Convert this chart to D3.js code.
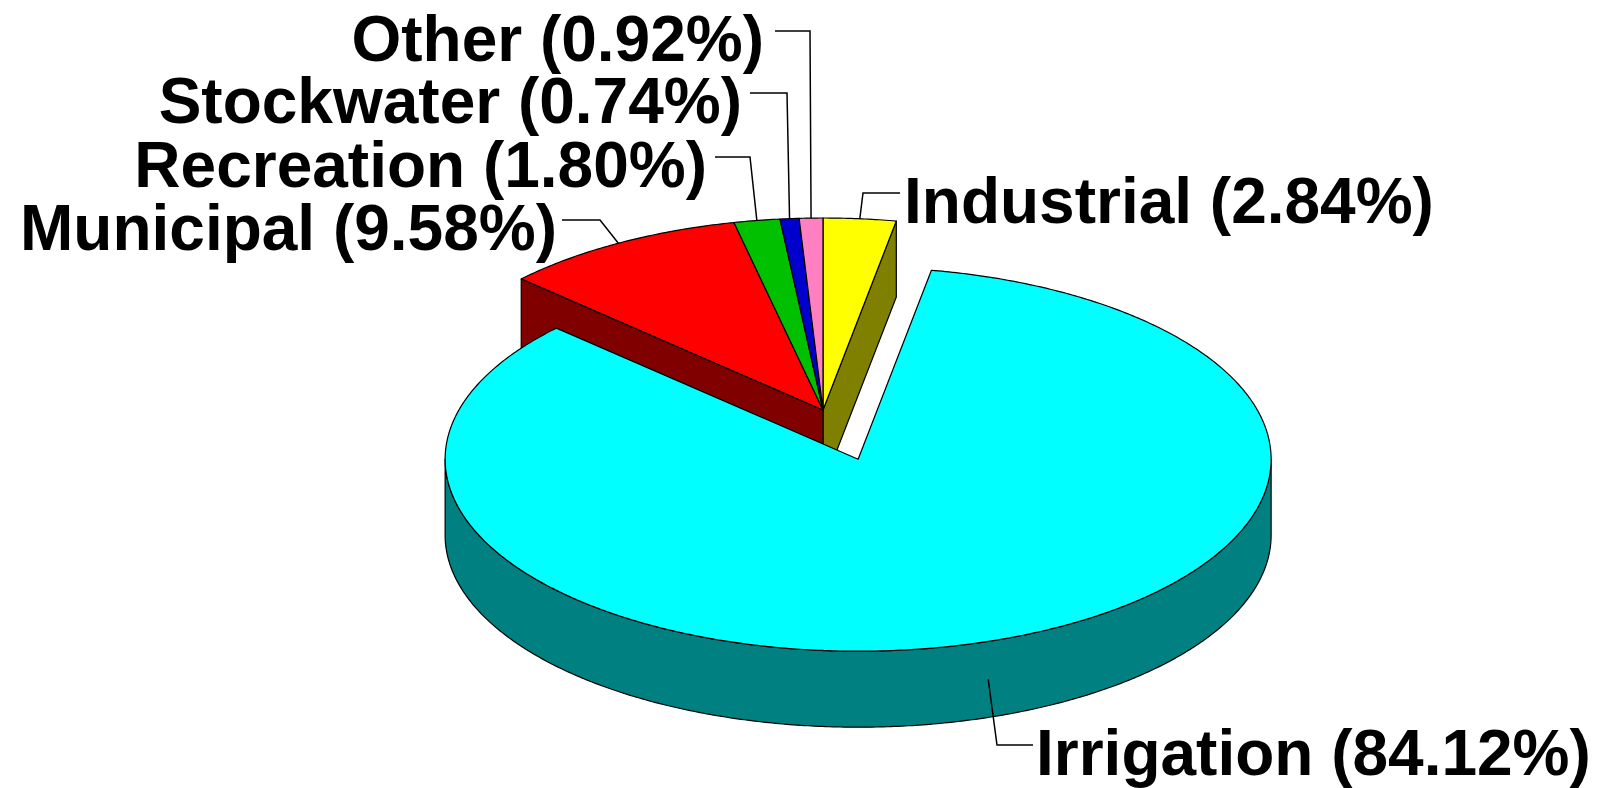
<!DOCTYPE html>
<html>
<head>
<meta charset="utf-8">
<script src="https://cdn.jsdelivr.net/npm/d3@7"></script>
<style>
  html, body { margin: 0; padding: 0; background: #fff; }
  svg { display: block; }
  .label { font-family: "Liberation Sans", Arial, sans-serif; font-weight: bold; font-size: 64px; fill: #000; }
  .leader { fill: none; stroke: #000; stroke-width: 1.5; }
  .face { stroke: #000; stroke-width: 1.2; stroke-linejoin: round; }
</style>
</head>
<body>
<div id="vis"></div>
<script>
const width = 1610;
const height = 788;

// data, in the order the slices run clockwise from 12 o'clock
const categories = ['Industrial', 'Irrigation', 'Municipal', 'Recreation', 'Stockwater', 'Other'];
const shares = [2.84, 84.12, 9.58, 1.80, 0.74, 0.92];
const explodedCategories = ['Irrigation'];

// colours: top face and the darker side walls
const topColors = ['#ffff00', '#00ffff', '#ff0000', '#00c000', '#0000cc', '#ff80c0'];
const sideColors = ['#808000', '#008080', '#800000', '#006000', '#000066', '#804060'];

// 3d ellipse geometry
const cx = 823, cy = 410;   // centre of the unexploded slices
const rx = 413, ry = 192;   // top face radii
const depth = 76;           // thickness of the pie
const explode = 0.27;       // how far the exploded slice is pulled out

// label placement: baseline position, where the leader starts and turns
const labelLayout = {
  Other:      {x: 764,  y: 61,  anchor: 'end',   lineStart: 775,  elbow: 810},
  Stockwater: {x: 742,  y: 123, anchor: 'end',   lineStart: 750,  elbow: 787},
  Recreation: {x: 707,  y: 187, anchor: 'end',   lineStart: 715,  elbow: 750},
  Municipal:  {x: 557,  y: 250, anchor: 'end',   lineStart: 562,  elbow: 600},
  Industrial: {x: 904,  y: 223, anchor: 'start', lineStart: 900,  elbow: 863},
  Irrigation: {x: 1036, y: 775, anchor: 'start', lineStart: 1033, elbow: 997}
};

const topColor = d3.scaleOrdinal().domain(categories).range(topColors);
const sideColor = d3.scaleOrdinal().domain(categories).range(sideColors);

const pie = d3.pie()
  .sort(null)
  .value(d => d.share)
  .startAngle(0)
  .endAngle(2 * Math.PI);

const arcs = pie(categories.map((c, i) => ({category: c, share: shares[i]})));

// offset of each slice (exploded ones pushed out along their mid angle)
arcs.forEach(a => {
  const mid = (a.startAngle + a.endAngle) / 2;
  a.mid = mid;
  a.exploded = explodedCategories.includes(a.data.category);
  a.off = a.exploded
    ? [rx * explode * Math.sin(mid), -ry * explode * Math.cos(mid)]
    : [0, 0];
});

const proj = (ang, off, z = 0) => [
  cx + off[0] + rx * Math.sin(ang),
  cy + off[1] - ry * Math.cos(ang) + z
];

function arcPts(a0, a1, off, z) {
  const n = Math.max(2, Math.ceil(Math.abs(a1 - a0) / (Math.PI / 360)));
  return d3.range(n + 1).map(i => proj(a0 + (a1 - a0) * i / n, off, z));
}

const line = d3.line();
const closed = pts => line(pts) + 'Z';

const svg = d3.select('#vis')
  .append('svg')
  .attr('width', width)
  .attr('height', height);

svg.append('rect')
  .attr('width', width)
  .attr('height', height)
  .attr('fill', '#fff');

// draw back group first, exploded (front) group after
const groups = d3.groups(arcs, d => d.exploded)
  .sort((a, b) => a[1][0].off[1] - b[1][0].off[1]);

groups.forEach(([, slices]) => {
  const g = svg.append('g');

  // side walls
  slices.forEach(a => {
    const i = arcs.indexOf(a);
    const prev = arcs[(i - 1 + arcs.length) % arcs.length];
    const next = arcs[(i + 1) % arcs.length];
    const c0 = [cx + a.off[0], cy + a.off[1]];
    const c1 = [c0[0], c0[1] + depth];

    const faces = [];
    if (prev.exploded !== a.exploded && Math.sin(a.startAngle) < 0) {
      faces.push([c0, proj(a.startAngle, a.off), proj(a.startAngle, a.off, depth), c1]);
    }
    if (next.exploded !== a.exploded && Math.sin(a.endAngle) > 0) {
      faces.push([c0, proj(a.endAngle, a.off), proj(a.endAngle, a.off, depth), c1]);
    }
    const lo = Math.max(a.startAngle, Math.PI / 2);
    const hi = Math.min(a.endAngle, 3 * Math.PI / 2);
    if (lo < hi) {
      faces.push(arcPts(lo, hi, a.off, 0).concat(arcPts(hi, lo, a.off, depth)));
    }

    faces.forEach(f => {
      g.append('path')
        .attr('class', 'face')
        .attr('d', closed(f))
        .attr('fill', sideColor(a.data.category));
    });
  });

  // top faces
  slices.forEach(a => {
    const c0 = [cx + a.off[0], cy + a.off[1]];
    g.append('path')
      .attr('class', 'face')
      .attr('d', closed([c0].concat(arcPts(a.startAngle, a.endAngle, a.off, 0))))
      .attr('fill', topColor(a.data.category));
  });
});

// labels and leader lines
arcs.forEach(a => {
  const lay = labelLayout[a.data.category];
  const front = Math.cos(a.mid) < 0;
  const target = proj(a.mid, a.off, front ? depth / 2 : 0);
  const lineY = lay.y - 30;

  svg.append('path')
    .attr('class', 'leader')
    .attr('d', line([[lay.lineStart, lineY], [lay.elbow, lineY], target]));

  svg.append('text')
    .attr('class', 'label')
    .attr('x', lay.x)
    .attr('y', lay.y)
    .attr('text-anchor', lay.anchor)
    .text(`${a.data.category} (${a.data.share.toFixed(2)}%)`);
});
</script>
</body>
</html>
